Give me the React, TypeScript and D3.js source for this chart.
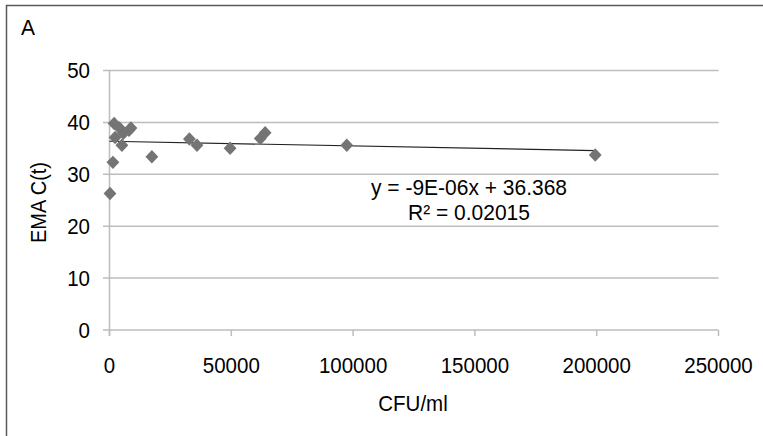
import React, { useEffect } from "react";
import * as d3 from "d3";

const xValues = [200, 1400, 1900, 2300, 4100, 5100, 5700, 8000, 8800, 17400, 32800, 35900, 49500, 61900, 63900, 97400, 199400];
const yValues = [26.3, 32.3, 39.8, 37.1, 38.9, 35.6, 37.9, 38.5, 38.9, 33.4, 36.8, 35.6, 35.0, 36.9, 38.0, 35.6, 33.7];
const xTicks = [0, 50000, 100000, 150000, 200000, 250000];
const yTicks = [0, 10, 20, 30, 40, 50];
const slope = -9e-6;
const intercept = 36.368;
const eqText = "y = -9E-06x + 36.368";
const r2Text = "R² = 0.02015";

const W = 763;
const H = 436;
const FONT = "'Liberation Sans', Arial, sans-serif";

function T(props: { x: number; y: number; anchor?: string; size?: number; children: React.ReactNode; sy?: number }) {
  const sy = props.sy ?? 1.08;
  return (
    <text
      transform={`translate(${props.x},${props.y}) scale(1,${sy})`}
      textAnchor={props.anchor ?? "start"}
      fontFamily={FONT}
      fontSize={props.size ?? 20.5}
      fill="#000"
    >
      {props.children}
    </text>
  );
}

export default function App() {
  useEffect(() => {
    document.body.style.margin = "0";
  }, []);

  const x = d3.scaleLinear().domain([0, 250000]).range([109.5, 718.5]);
  const y = d3.scaleLinear().domain([0, 50]).range([330, 70.5]);

  const xMin = 0;
  const xMax = d3.max(xValues) as number;
  const line = d3.line<number>().x((d) => x(d)).y((d) => y(slope * d + intercept));

  const diamond = d3.symbol().type(d3.symbolDiamond2 ?? d3.symbolDiamond).size(105)();

  return (
    <svg width={W} height={H} style={{ display: "block", background: "#fff" }}>
      <rect x={6.5} y={5.5} width={W + 20} height={H + 20} fill="#fff" stroke="#595959" strokeWidth={1.5} />
      <T x={21} y={35} size={21}>A</T>

      {yTicks.map((t) => (
        <g key={"y" + t}>
          <line x1={103} x2={x(250000)} y1={y(t)} y2={y(t)} stroke="#bdbdbd" strokeWidth={1.5} />
          <T x={90} y={y(t) + 7.5} anchor="end">
            {t}
          </T>
        </g>
      ))}
      <line x1={x(0)} x2={x(0)} y1={y(50)} y2={y(0) + 6} stroke="#bdbdbd" strokeWidth={1.5} />
      {xTicks.map((t) => (
        <g key={"x" + t}>
          <line x1={x(t)} x2={x(t)} y1={y(0)} y2={y(0) + 6} stroke="#bdbdbd" strokeWidth={1.5} />
          <T x={x(t)} y={372.5} anchor="middle">
            {t}
          </T>
        </g>
      ))}

      <path d={line([xMin, xMax]) || ""} fill="none" stroke="#222" strokeWidth={1.2} />

      {xValues.map((v, i) => (
        <path
          key={"p" + i}
          d={diamond || ""}
          transform={`translate(${x(v)},${y(yValues[i])}) scale(1,1.05)`}
          fill="#747474"
        />
      ))}

      <T x={469} y={195} anchor="middle" size={21} sy={1.03}>
        {eqText}
      </T>
      <T x={469} y={220} anchor="middle" size={21} sy={1.03}>
        {r2Text}
      </T>

      <T x={413} y={410.5} anchor="middle">
        CFU/ml
      </T>
      <text
        transform={`translate(46,202.5) rotate(-90) scale(1.0,1.08)`}
        textAnchor="middle"
        fontFamily={FONT}
        fontSize={20}
        fill="#000"
      >
        EMA C(t)
      </text>
    </svg>
  );
}
